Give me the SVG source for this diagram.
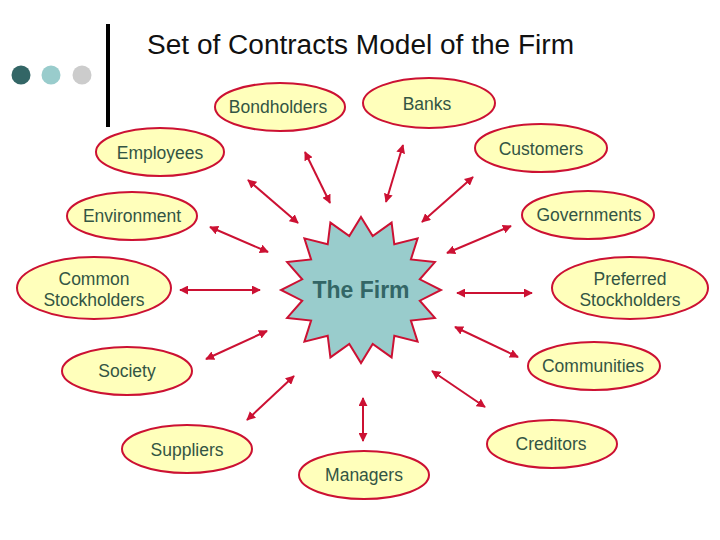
<svg xmlns="http://www.w3.org/2000/svg" width="720" height="540" viewBox="0 0 720 540">
<style>
.node ellipse{fill:#FFFFBB;stroke:#CC1133;stroke-width:2}
.node text{font-family:"Liberation Sans",Arial,sans-serif;font-size:17.5px;fill:#335544;text-anchor:middle}
.conn line{stroke:#CC1133;stroke-width:2;marker-start:url(#ah);marker-end:url(#ah)}
</style>
<defs>
<marker id="ah" viewBox="0 0 10 10" refX="9" refY="5" markerWidth="4.5" markerHeight="4.5" orient="auto-start-reverse" markerUnits="strokeWidth">
<path d="M0,0 L10,5 L0,10 Z" fill="#CC1133"/>
</marker>
</defs>
<rect width="720" height="540" fill="#FFFFFF"/>
<g id="title">
<circle cx="21" cy="75" r="9.5" fill="#336666"/>
<circle cx="51" cy="75" r="9.5" fill="#99CCCC"/>
<circle cx="82" cy="75" r="9.5" fill="#CCCCCC"/>
<rect x="106" y="24" width="4" height="103" fill="#000000"/>
<text x="147" y="54" font-family="'Liberation Sans',Arial,sans-serif" font-size="27" fill="#111111" textLength="427" lengthAdjust="spacingAndGlyphs">Set of Contracts Model of the Firm</text>
</g>
<g class="conn" id="connectors">
<line x1="305" y1="152" x2="330" y2="203"/>
<line x1="248" y1="180" x2="298" y2="223"/>
<line x1="210" y1="227" x2="268" y2="252"/>
<line x1="180" y1="290" x2="260" y2="290"/>
<line x1="403" y1="145" x2="386" y2="202"/>
<line x1="473" y1="177" x2="422" y2="222"/>
<line x1="511" y1="226" x2="447" y2="253"/>
<line x1="457" y1="293" x2="532" y2="293"/>
<line x1="455" y1="327" x2="518" y2="357"/>
<line x1="432" y1="371" x2="485" y2="407"/>
<line x1="363" y1="398" x2="363" y2="441"/>
<line x1="294" y1="376" x2="247" y2="420"/>
<line x1="267" y1="331" x2="206" y2="359"/>
</g>
<g id="firm">
<polygon points="361,217 372.7,236.1 391.6,222.6 394.3,244.3 417.6,238.4 410.9,259.4 434.9,262.1 419.8,279.3 441,290 419.8,300.7 434.9,317.9 410.9,320.6 417.6,341.6 394.3,335.7 391.6,357.4 372.7,343.9 361,363 349.3,343.9 330.4,357.4 327.7,335.7 304.4,341.6 311.1,320.6 287.1,317.9 302.2,300.7 281,290 302.2,279.3 287.1,262.1 311.1,259.4 304.4,238.4 327.7,244.3 330.4,222.6 349.3,236.1" fill="#99CCCC" stroke="#CC1133" stroke-width="2"/>
<text x="361" y="298" font-family="'Liberation Sans',Arial,sans-serif" font-size="23" font-weight="bold" fill="#336666" text-anchor="middle">The Firm</text>
</g>
<g class="node" id="bondholders"><ellipse cx="280" cy="107" rx="65" ry="24"/><text x="278" y="113">Bondholders</text></g>
<g class="node" id="banks"><ellipse cx="429" cy="103" rx="66" ry="25"/><text x="427" y="110">Banks</text></g>
<g class="node" id="employees"><ellipse cx="160" cy="152" rx="64" ry="24"/><text x="160" y="159">Employees</text></g>
<g class="node" id="customers"><ellipse cx="541" cy="148" rx="66" ry="24"/><text x="541" y="155">Customers</text></g>
<g class="node" id="environment"><ellipse cx="132" cy="216" rx="65" ry="24"/><text x="132" y="222">Environment</text></g>
<g class="node" id="governments"><ellipse cx="588" cy="215" rx="66" ry="24"/><text x="589" y="221">Governments</text></g>
<g class="node" id="common"><ellipse cx="94" cy="288" rx="77" ry="31"/><text x="94" y="285">Common</text><text x="94" y="306">Stockholders</text></g>
<g class="node" id="preferred"><ellipse cx="630" cy="288" rx="78" ry="31"/><text x="630" y="285">Preferred</text><text x="630" y="306">Stockholders</text></g>
<g class="node" id="society"><ellipse cx="127" cy="371" rx="65" ry="24"/><text x="127" y="377">Society</text></g>
<g class="node" id="communities"><ellipse cx="594" cy="366" rx="66" ry="24"/><text x="593" y="372">Communities</text></g>
<g class="node" id="suppliers"><ellipse cx="187" cy="449" rx="65" ry="24"/><text x="187" y="456">Suppliers</text></g>
<g class="node" id="creditors"><ellipse cx="552" cy="444" rx="65" ry="24"/><text x="551" y="450">Creditors</text></g>
<g class="node" id="managers"><ellipse cx="364" cy="475" rx="65" ry="24"/><text x="364" y="481">Managers</text></g>
</svg>
